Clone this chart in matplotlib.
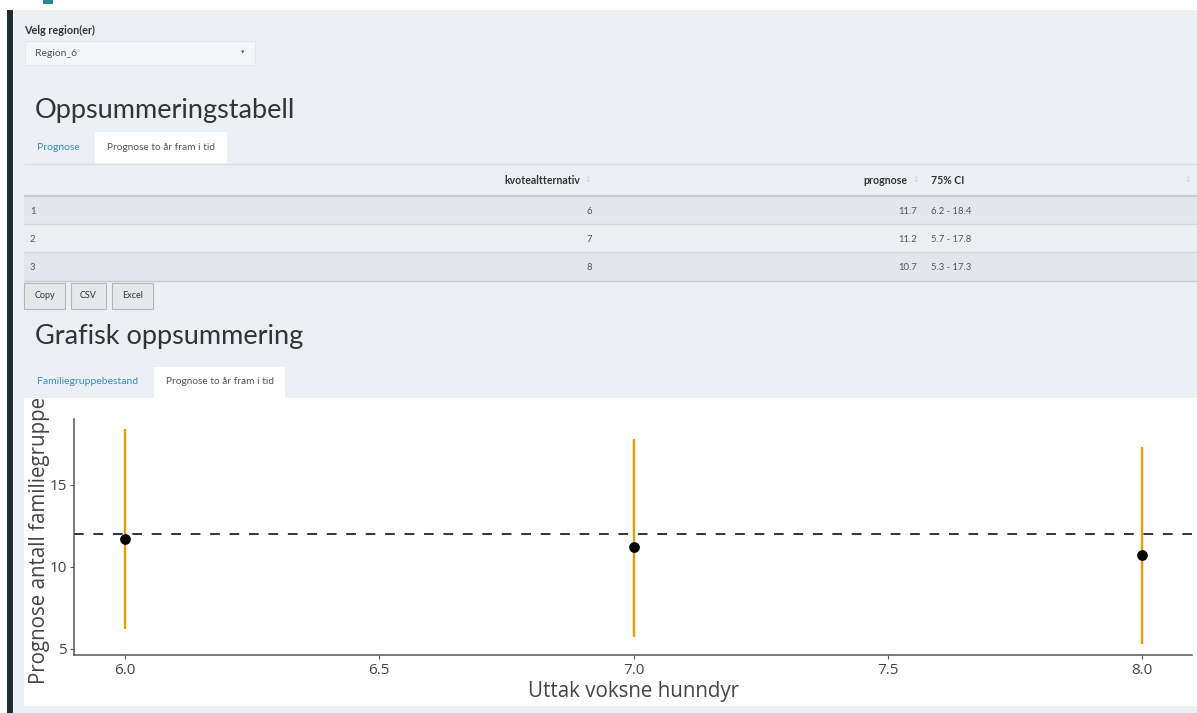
import matplotlib
matplotlib.use("Agg")
import matplotlib.pyplot as plt
from matplotlib.patches import Rectangle
from matplotlib.transforms import Bbox

# data from the table / chart
kvote = [6, 7, 8]
prognose = [11.7, 11.2, 10.7]
ci_low = [6.2, 5.7, 5.3]
ci_high = [18.4, 17.8, 17.3]
row_ids = [1, 2, 3]
terskel = 12
xticks = [6.0, 6.5, 7.0, 7.5, 8.0]
yticks = [5, 10, 15]
region = "Region_6"

W, H = 1197, 713
ui = "Lato"
plotfont = "Open Sans"
bg = "#ECF0F5"
blue = "#3C8DBC"

fig = plt.figure(figsize=(W / 100, H / 100), dpi=100)
fig.patch.set_facecolor("white")

# page axes in pixel coordinates
pg = fig.add_axes([0, 0, 1, 1])
pg.set_xlim(0, W)
pg.set_ylim(H, 0)
pg.axis("off")

def rect(x, y, w, h, fc, ec="none", lw=0, z=1):
    pg.add_patch(Rectangle((x, y), w, h, facecolor=fc, edgecolor=ec, linewidth=lw, zorder=z))

def hline(y, x0, x1, c, lw=1, z=2):
    pg.plot([x0, x1], [y, y], color=c, lw=lw, zorder=z, solid_capstyle="butt")

rect(14, 10, W - 14, H - 10, bg)
rect(7, 10, 6, H - 10, "#222D32")
rect(43, 0, 10, 4, "#1E8C8C")

# region selector
pg.text(24, 30, "Velg region(er)", fontsize=7.8, fontweight="bold", family=ui,
        color="#333333", va="center")
rect(25, 41, 230, 24, "#F5F6F8", "#E2E5E9", 0.6)
pg.text(35, 53, region, fontsize=7.5, family=ui, color="#555555", va="center")
pg.text(243, 52, "\u25be", fontsize=5, family="DejaVu Sans", color="#666666",
        va="center", ha="center")

# heading 1 + tabs
pg.text(35, 118, "Oppsummeringstabell", fontsize=19.5, family=ui, color="#333333", va="baseline")
hline(163.5, 24, W, "#DCE0E5", 1)
rect(95, 132, 132, 31, "white", z=3)
pg.text(37, 147, "Prognose", fontsize=7.5, family=ui, color=blue, va="center")
pg.text(107, 147, "Prognose to år fram i tid", fontsize=7.3, family=ui, color="#555555",
        va="center", zorder=4)

# table
row_top = [195, 224, 252]
row_bot = [224, 252, 281]
for i in range(len(row_ids)):
    fc = "#E3E6EA" if i % 2 == 0 else "#ECEEF2"
    rect(24, row_top[i], W - 24, row_bot[i] - row_top[i], fc)
    hline(row_bot[i], 24, W, "#D3D7DC" if i < 2 else "#C8CCD2", 1)
hline(195.5, 24, W, "#C8CCD2", 1.5)

hy = 180
pg.text(580, hy, "kvotealtternativ", fontsize=7.6, fontweight="bold", family=ui,
        color="#333333", ha="right", va="center")
pg.text(907, hy, "prognose", fontsize=7.6, fontweight="bold", family=ui,
        color="#333333", ha="right", va="center")
pg.text(931, hy, "75% CI", fontsize=7.6, fontweight="bold", family=ui,
        color="#333333", ha="left", va="center")
for sx in [588, 916, 1188]:
    pg.text(sx, hy, "\u2195", fontsize=5.5, family="DejaVu Sans", color="#D0D3D8",
            ha="center", va="center")

row_y = [211, 239, 267]
for i in range(len(row_ids)):
    pg.text(30, row_y[i], str(row_ids[i]), fontsize=6.8, family=ui, color="#555555", va="center")
    pg.text(592, row_y[i], str(kvote[i]), fontsize=6.8, family=ui, color="#555555",
            ha="right", va="center")
    pg.text(917, row_y[i], f"{prognose[i]:.1f}", fontsize=6.8, family=ui, color="#555555",
            ha="right", va="center")
    pg.text(931, row_y[i], f"{ci_low[i]:.1f} - {ci_high[i]:.1f}", fontsize=6.8, family=ui,
            color="#555555", ha="left", va="center")

# export buttons
for bx, bw, lab in [(24, 41, "Copy"), (71, 35, "CSV"), (112, 41, "Excel")]:
    rect(bx, 283, bw, 26, "#E6E7E9", "#B4B6B9", 0.8)
    pg.text(bx + bw / 2, 296, lab, fontsize=6.5, family=ui, color="#333333",
            ha="center", va="center")

# heading 2 + tabs
pg.text(35, 344, "Grafisk oppsummering", fontsize=19.5, family=ui, color="#333333", va="baseline")
rect(154, 367, 131, 31, "white", z=3)
pg.text(37, 382, "Familiegruppebestand", fontsize=7.5, family=ui, color=blue, va="center")
pg.text(166, 382, "Prognose to år fram i tid", fontsize=7.3, family=ui, color="#555555",
        va="center", zorder=4)

# white plot panel
rect(24, 398, W - 24, 706 - 398, "white")

# plot
ax = fig.add_axes([74 / W, (H - 655) / H, (1192 - 74) / W, (655 - 419) / H])
ax.set_facecolor("none")
ax.vlines(kvote, ci_low, ci_high, color="#E69F00", lw=1.7, zorder=2)
ax.axhline(terskel, color="#333333", lw=1.4, dashes=(5, 5), zorder=2)
ax.scatter(kvote, prognose, s=45, color="black", zorder=3)
ax.set_xlim(5.9, 8.098)
ax.set_ylim(4.63, 19.02)
ax.set_xticks(xticks)
ax.set_xticklabels([f"{t:.1f}" for t in xticks])
ax.set_yticks(yticks)
for s in ["top", "right"]:
    ax.spines[s].set_visible(False)
for s in ["left", "bottom"]:
    ax.spines[s].set_color("#555555")
    ax.spines[s].set_linewidth(1.1)
ax.tick_params(length=3, width=0.8, color="#555555", labelcolor="#444444", labelsize=11, pad=3)
ax.tick_params(axis="y", pad=2)
for lab in ax.get_xticklabels() + ax.get_yticklabels():
    lab.set_family(plotfont)

fig.text(633 / W, 1 - 692 / H, "Uttak voksne hunndyr", fontsize=14.8, family=plotfont,
         color="#444444", ha="center", va="center")
yl = fig.text(40 / W, 1 - 684 / H, "Prognose antall familiegrupper", fontsize=14.8,
              family=plotfont, color="#444444", rotation=90, ha="center", va="bottom")
yl.set_clip_box(Bbox.from_extents(24, H - 706, W, H - 398))
yl.set_clip_on(True)

fig.savefig("out.png", dpi=100)
